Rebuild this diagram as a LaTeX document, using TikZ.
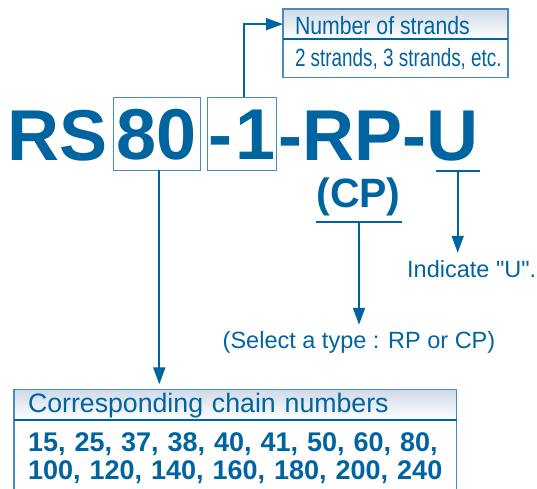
\documentclass[tikz,border=0pt]{standalone}
\usepackage{fontspec}
\setmainfont{Liberation Sans}
\newfontfamily\notefont[Ligatures=TeXOff]{Liberation Sans}
\usetikzlibrary{arrows.meta, positioning, calc}
\definecolor{rsblue}{RGB}{0,100,160}
\definecolor{framecol}{RGB}{70,140,190}
\definecolor{hdtop}{RGB}{208,217,231}

\begin{document}
\begin{tikzpicture}[x=1pt, y=-1pt,
    code/.style={font=\fontsize{72}{72}\selectfont\bfseries, text=rsblue, inner sep=0pt, outer sep=0pt},
    codebox/.style={code, draw=framecol, line width=1.1pt, minimum height=72.7pt, text height=52pt, text depth=0pt},
    head/.style={draw=framecol, line width=1.2pt, top color=hdtop, bottom color=white, text=rsblue, anchor=north west, align=left, outer sep=0pt},
    val/.style={draw=framecol, line width=1.2pt, fill=white, text=rsblue, anchor=north west, align=left, outer sep=0pt},
    note/.style={font=\notefont\fontsize{23.5}{24}\selectfont, text=rsblue, inner sep=0pt},
    conn/.style={draw=rsblue, line width=1.8pt, -{Triangle[length=17pt,width=12pt]}},
    bar/.style={draw=rsblue, line width=2pt},
  ]
    \useasboundingbox (0,0) rectangle (537,488);

    % chain code
    \node[code, anchor=base west] (rs) at (7.2,160) {RS};
    \node[codebox, minimum width=86.7pt] (eighty) at (156.7,133.7) {80};
    \node[codebox, minimum width=68.7pt] (one) at (241.7,133.7) {-\kern3pt1};
    \node[code, anchor=base west] (rp) at (278.5,160) {-RP-};
    \node[code, anchor=base west] (u) at (rp.base east) {U};
    \node[code, font=\fontsize{41}{41}\selectfont\bfseries, anchor=base] (cp) at (358.5,207) {(CP)};

    \coordinate (ubar) at (457.7,170.5);
    \draw[bar] (436,170.5) -- (480,170.5);
    \coordinate (cpbar) at (359,222);
    \draw[bar] (316,222) -- (401.7,222);

    % number of strands
    \node[head, font=\fontsize{25}{25}\selectfont, inner xsep=12pt, inner ysep=5.15pt, text height=20pt, text depth=0pt] (strandshead) at (283,9)
      {\makebox[201pt][l]{\scalebox{0.85}[1]{Number of strands}}};
    \node[val, font=\fontsize{25}{25}\selectfont, inner xsep=12pt, inner ysep=7.4pt, text height=20pt, text depth=3pt] (strandsval) at (strandshead.south west)
      {\makebox[201pt][l]{\scalebox{0.755}[1]{2 strands, 3 strands, etc.}}};
    \draw[bar] (strandshead.south west) -- (strandshead.south east);

    % chain numbers
    \node[head, font=\fontsize{26.7}{27}\selectfont, text width=414.7pt, inner xsep=14pt, inner ysep=3pt, text height=20pt, text depth=4.7pt] (chainhead) at (14,389.3) {Corresponding chain numbers};
    \node[val, font=\fontsize{27}{27.3}\selectfont\bfseries, text width=414.7pt, inner xsep=14pt, inner ysep=13pt] (chainnums) at (chainhead.south west) {15, 25, 37, 38, 40, 41, 50, 60, 80,\\100, 120, 140, 160, 180, 200, 240};
    \draw[bar] (chainhead.south west) -- (chainhead.south east);

    % notes
    \node[note, anchor=base west] (indicate) at (407,277) {Indicate "U".};
    \node[note, anchor=base] (select) at (359,348) {(Select a type : RP or CP)};

    \draw[conn] ([xshift=2.3pt]one.north) |- (strandshead.west);
    \draw[conn, shorten >=5pt] ([xshift=2.6pt]eighty.south) -- ([xshift=2.6pt]eighty.south |- chainhead.north);
    \draw[conn, shorten >=7pt] (ubar) -- (ubar |- indicate.north);
    \draw[conn, shorten >=6pt] (cpbar) -- (cpbar |- select.north);
  \end{tikzpicture}
\end{document}
